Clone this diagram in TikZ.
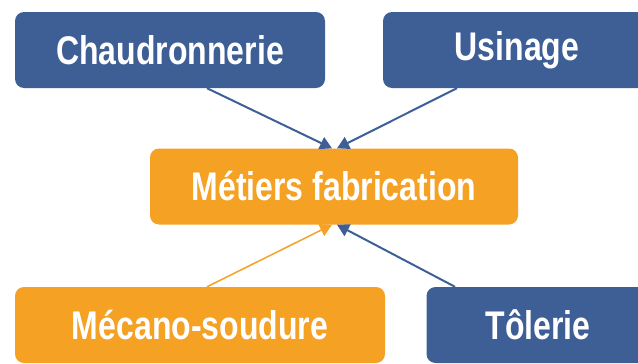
\documentclass[tikz,border=0pt]{standalone}
\usepackage{fontspec}
\setmainfont[FakeStretch=0.8]{Liberation Sans}
\usepackage{xcolor}
\usetikzlibrary{arrows.meta}
\definecolor{metblue}{RGB}{62,95,150}
\definecolor{metorange}{RGB}{245,161,35}

\begin{document}
\begin{tikzpicture}[x=1pt,y=-1pt]
\tikzstyle{metier} = [rounded corners=9pt, text=white, font=\bfseries\fontsize{40}{40}\selectfont, minimum height=76pt, inner sep=0pt]
\tikzstyle{bluebox} = [metier, fill=metblue]
\tikzstyle{orangebox} = [metier, fill=metorange]
\tikzstyle{fleche} = [line width=2pt, -{Triangle[length=12pt,width=13pt]}]
%
\useasboundingbox (0,0) rectangle (638,364);
\clip (0,0) rectangle (638,364);

	\node[bluebox, minimum width=310pt] (chaud) at (170,50) {Chaudronnerie};
	\node[bluebox, minimum width=268pt] (usinage) at (517,50) {Usinage};
	\node[orangebox, minimum width=368pt] (metiers) at (334,186.5) {Métiers fabrication};
	\node[orangebox, minimum width=370pt] (mecano) at (200,325) {Mécano-soudure};
	\node[bluebox, minimum width=223pt] (tolerie) at (538,325) {Tôlerie};

	\draw[fleche, metblue] ([xshift=37pt]chaud.south) -- ([xshift=-2pt]metiers.north);
	\draw[fleche, metblue] ([xshift=-60pt]usinage.south) -- ([xshift=3pt]metiers.north);
	\draw[fleche, metorange, line width=1.5pt] ([xshift=7pt]mecano.north) -- ([xshift=-2pt]metiers.south);
	\draw[fleche, metblue] ([xshift=-83pt]tolerie.north) -- ([xshift=3pt]metiers.south);
\end{tikzpicture}
\end{document}
